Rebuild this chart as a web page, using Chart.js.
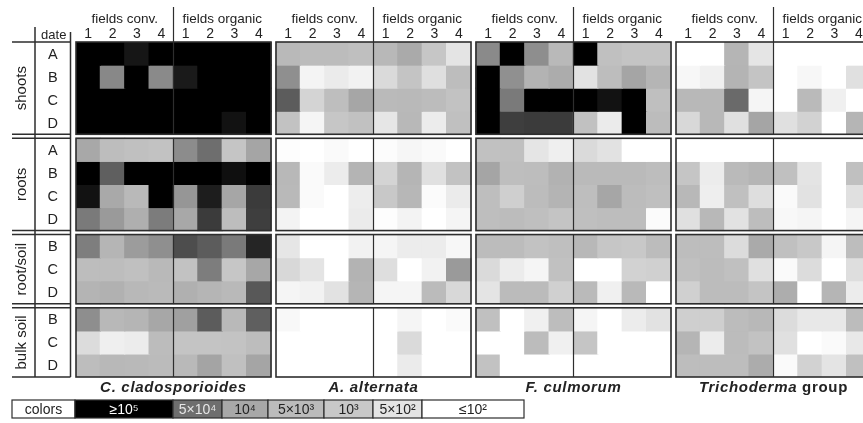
<!DOCTYPE html>
<html>
<head>
<meta charset="utf-8">
<script src="https://cdn.jsdelivr.net/npm/chart.js@4/dist/chart.umd.min.js"></script>
<style>
  html, body { margin: 0; padding: 0; background: #fff; }
  #heat { display: block; }
</style>
</head>
<body>
<canvas id="heat" width="863" height="423"></canvas>
<script>
// ---- DATA ----
// log10 propagules per cell; columns = fields conv. 1-4, fields organic 1-4
// rows = shoots A-D, roots A-D, root/soil B-D, bulk soil B-D
const speciesNames = ['C. cladosporioides', 'A. alternata', 'F. culmorum', 'Trichoderma'];
const speciesSuffix = ['', '', '', ' group'];
const groups = ['shoots', 'roots', 'root/soil', 'bulk soil'];
const groupDates = [['A', 'B', 'C', 'D'], ['A', 'B', 'C', 'D'], ['B', 'C', 'D'], ['B', 'C', 'D']];
const fieldNumbers = ['1', '2', '3', '4'];
const fieldTypes = ['fields conv.', 'fields organic'];
const levelValues = [5, 4.7, 4, 3.7, 3, 2.7, 2];
const levelLabels = ['\u226510\u2075', '5\u00d710\u2074', '10\u2074', '5\u00d710\u00b3', '10\u00b3', '5\u00d710\u00b2', '\u226410\u00b2'];

const cladosporioides = [
  [5.2, 5.2, 4.94, 5.2, 5.2, 5.2, 5.2, 5.2],
  [5.2, 4.39, 5.2, 4.36, 4.93, 5.2, 5.2, 5.2],
  [5.2, 5.2, 5.2, 5.2, 5.2, 5.2, 5.2, 5.2],
  [5.2, 5.2, 5.2, 5.2, 5.2, 5.2, 4.95, 5.2],
  [4.00, 3.59, 3.43, 3.32, 4.34, 4.70, 3.16, 4.04],
  [5.2, 4.74, 5.2, 5.2, 5.2, 5.2, 4.96, 5.2],
  [4.95, 3.98, 3.73, 5.2, 4.22, 4.92, 4.02, 4.84],
  [4.55, 4.17, 3.89, 4.53, 4.00, 4.84, 3.59, 4.83],
  [4.51, 3.79, 4.14, 4.30, 4.79, 4.75, 4.55, 4.90],
  [3.59, 3.59, 3.43, 3.73, 3.32, 4.52, 3.11, 4.01],
  [3.81, 3.86, 3.75, 3.72, 3.87, 3.79, 3.73, 4.76],
  [4.31, 3.75, 3.79, 4.01, 4.10, 4.75, 3.73, 4.74],
  [2.79, 2.41, 2.49, 3.65, 3.22, 3.22, 3.27, 3.59],
  [3.59, 3.75, 3.73, 3.70, 3.73, 4.05, 3.43, 4.04]
];

const alternata = [
  [3.73, 3.65, 3.65, 3.48, 3.75, 3.97, 3.11, 2.70],
  [4.30, 2.29, 2.52, 2.34, 2.81, 3.22, 2.75, 3.59],
  [4.75, 2.87, 3.54, 4.02, 3.72, 3.73, 3.65, 3.32],
  [3.32, 2.26, 3.11, 3.38, 2.65, 3.75, 2.49, 3.43],
  [2.05, 2.00, 2.13, 2.00, 2.08, 2.23, 2.13, 2.00],
  [3.75, 2.13, 2.49, 3.81, 2.87, 3.79, 2.74, 3.32],
  [3.73, 2.13, 2.00, 2.47, 3.00, 3.76, 2.10, 2.52],
  [2.31, 2.00, 2.00, 2.52, 2.05, 2.31, 2.00, 2.26],
  [2.65, 2.00, 2.00, 2.34, 2.26, 2.49, 2.49, 2.21],
  [2.83, 2.70, 2.00, 3.83, 2.76, 2.00, 2.34, 4.17],
  [2.26, 2.34, 2.72, 3.79, 2.26, 2.26, 3.70, 2.83],
  [2.18, 2.00, 2.00, 2.00, 2.00, 2.26, 2.00, 2.13],
  [2.00, 2.00, 2.00, 2.00, 2.00, 2.81, 2.00, 2.00],
  [2.00, 2.00, 2.00, 2.00, 2.00, 2.52, 2.00, 2.00]
];

const culmorum = [
  [4.36, 5.2, 4.31, 3.73, 5.2, 3.43, 3.22, 3.22],
  [5.2, 4.29, 3.83, 3.94, 2.72, 3.59, 4.04, 3.79],
  [5.2, 4.55, 5.2, 5.2, 5.2, 4.95, 5.2, 3.48],
  [5.2, 4.83, 4.84, 4.84, 3.38, 2.52, 5.2, 3.65],
  [3.38, 3.43, 2.67, 2.41, 2.81, 2.72, 2.00, 2.00],
  [4.04, 3.54, 3.59, 3.84, 3.72, 3.72, 3.72, 3.59],
  [3.54, 2.93, 3.65, 3.81, 3.54, 4.02, 3.65, 3.48],
  [3.54, 3.65, 3.48, 3.22, 3.48, 3.59, 3.59, 2.10],
  [3.65, 3.65, 3.32, 3.48, 3.75, 3.11, 3.00, 3.65],
  [2.81, 2.49, 2.26, 3.38, 2.00, 2.00, 2.89, 2.91],
  [2.70, 3.70, 3.70, 2.91, 3.72, 2.39, 3.73, 2.00],
  [3.43, 2.00, 2.39, 3.59, 2.26, 2.00, 2.49, 2.72],
  [2.00, 2.00, 3.65, 2.39, 3.16, 2.00, 2.00, 2.00],
  [3.32, 2.00, 2.00, 2.00, 2.00, 2.00, 2.00, 2.00]
];

const trichoderma = [
  [2.00, 2.00, 3.79, 2.67, 2.00, 2.00, 2.00, 2.00],
  [2.21, 2.39, 3.81, 3.22, 2.00, 2.21, 2.00, 2.74],
  [3.75, 3.75, 4.71, 2.26, 2.00, 3.72, 2.39, 2.00],
  [2.83, 3.75, 2.74, 4.04, 2.74, 2.89, 2.00, 3.79],
  [2.00, 2.00, 2.00, 2.00, 2.00, 2.00, 2.00, 2.00],
  [3.16, 2.49, 3.72, 3.79, 3.43, 2.70, 2.00, 3.43],
  [3.75, 2.44, 3.43, 2.76, 2.13, 2.72, 2.00, 2.74],
  [2.74, 3.75, 2.72, 3.59, 2.18, 2.26, 2.00, 2.26],
  [3.59, 3.59, 2.79, 3.97, 3.43, 3.00, 2.26, 3.59],
  [3.43, 3.65, 3.43, 2.74, 2.13, 2.79, 2.00, 2.76],
  [2.91, 3.65, 3.65, 3.22, 3.92, 2.00, 3.79, 2.49],
  [2.93, 2.93, 3.65, 3.75, 2.79, 2.60, 2.60, 3.65],
  [3.79, 2.49, 3.65, 3.32, 2.74, 2.00, 2.13, 2.60],
  [3.59, 3.59, 3.59, 3.94, 2.13, 2.89, 2.70, 3.43]
];

const panels = [cladosporioides, alternata, culmorum, trichoderma];

// ---- LAYOUT / STYLE ----
const CELL_PX = 24.375;             // one field column
const PANEL_STEP = 200 / CELL_PX;   // 8 columns + white gap
const GAP_Y = 4 / 23.07;            // gap between sample groups, in row units
const ROWS = groupDates.reduce((s, d) => s + d.length, 0);
const Y_MAX = ROWS + (groups.length - 1) * GAP_Y;
const FONT = "'Liberation Sans', Arial, sans-serif";
const INK = '#232323';
const LINE = '#2e2e2e';
const GRAY_STOPS = [0, 110, 168, 187, 200, 228, 255]; // gray for each level in levelValues

function shade(v) {
  const lv = levelValues;
  let g;
  if (v >= lv[0]) g = GRAY_STOPS[0];
  else if (v <= lv[lv.length - 1]) g = GRAY_STOPS[GRAY_STOPS.length - 1];
  else {
    for (let i = 0; i < lv.length - 1; i++) {
      if (v <= lv[i] && v >= lv[i + 1]) {
        const t = (lv[i] - v) / (lv[i] - lv[i + 1]);
        g = GRAY_STOPS[i] + t * (GRAY_STOPS[i + 1] - GRAY_STOPS[i]);
        break;
      }
    }
  }
  g = Math.round(g);
  return `rgb(${g},${g},${g})`;
}

// row start (in y units) of every group
const groupStart = [];
(() => {
  let r = 0;
  groupDates.forEach((d, gi) => { groupStart.push(r + gi * GAP_Y); r += d.length; });
})();

// ---- DATASETS: one floating-bar series per sample row ----
const datasets = [];
let rowIndex = 0;
groups.forEach((grp, gi) => {
  groupDates[gi].forEach((date, di) => {
    const top = groupStart[gi] + di;
    const pts = [];
    panels.forEach((rows, p) => {
      rows[rowIndex].forEach((v, c) => {
        pts.push({ x: p * PANEL_STEP + c + 0.5, y: [top, top + 1], v });
      });
    });
    datasets.push({
      label: `${grp} ${date}`,
      data: pts,
      backgroundColor: ctx => shade(ctx.raw.v),
      borderWidth: 0,
      inflateAmount: 0.6,
      grouped: false,
      barPercentage: 1,
      categoryPercentage: 1
    });
    rowIndex++;
  });
});

// ---- FRAMES, LABELS AND COLOR KEY ----
const decorations = {
  id: 'decorations',
  afterDatasetsDraw(chart) {
    const { ctx, scales: { x, y } } = chart;
    ctx.save();
    ctx.strokeStyle = LINE;
    panels.forEach((_, p) => {
      const x0 = x.getPixelForValue(p * PANEL_STEP);
      const x1 = x.getPixelForValue(p * PANEL_STEP + 8);
      const xm = x.getPixelForValue(p * PANEL_STEP + 4);
      groups.forEach((_, gi) => {
        const y0 = y.getPixelForValue(groupStart[gi]);
        const y1 = y.getPixelForValue(groupStart[gi] + groupDates[gi].length);
        ctx.lineWidth = 1.6;
        ctx.strokeRect(x0, y0, x1 - x0, y1 - y0);
        ctx.lineWidth = 1.2;
        ctx.beginPath();
        ctx.moveTo(xm, y0);
        ctx.lineTo(xm, y1);
        ctx.stroke();
      });
    });
    ctx.restore();
  },
  afterDraw(chart) {
    const { ctx, scales: { x, y }, chartArea } = chart;
    ctx.save();
    ctx.fillStyle = INK;
    ctx.strokeStyle = LINE;
    ctx.textAlign = 'center';

    // column headers
    panels.forEach((_, p) => {
      const xm = x.getPixelForValue(p * PANEL_STEP + 4);
      ctx.lineWidth = 1.2;
      ctx.beginPath();
      ctx.moveTo(xm, 7);
      ctx.lineTo(xm, chartArea.top);
      ctx.stroke();
      fieldTypes.forEach((ft, k) => {
        ctx.font = `13.5px ${FONT}`;
        ctx.textBaseline = 'alphabetic';
        ctx.fillText(ft, x.getPixelForValue(p * PANEL_STEP + k * 4 + 2), 23);
        fieldNumbers.forEach((n, c) => {
          ctx.font = `14px ${FONT}`;
          ctx.fillText(n, x.getPixelForValue(p * PANEL_STEP + k * 4 + c + 0.5), 38);
        });
      });
    });

    // row header column
    const colA = 12, colB = 35, colC = 70.5;
    ctx.lineWidth = 1.5;
    ctx.beginPath();
    ctx.moveTo(colB, 27); ctx.lineTo(colB, y.getPixelForValue(Y_MAX));
    ctx.moveTo(colC, 32); ctx.lineTo(colC, y.getPixelForValue(Y_MAX));
    groups.forEach((_, gi) => {
      const y0 = y.getPixelForValue(groupStart[gi]);
      const y1 = y.getPixelForValue(groupStart[gi] + groupDates[gi].length);
      ctx.moveTo(colA, y0); ctx.lineTo(colC, y0);
      ctx.moveTo(colA, y1); ctx.lineTo(colC, y1);
    });
    ctx.stroke();

    ctx.font = `13px ${FONT}`;
    ctx.textBaseline = 'alphabetic';
    ctx.fillText('date', (colB + colC) / 2 + 1, 39);

    groups.forEach((grp, gi) => {
      const n = groupDates[gi].length;
      const cy = y.getPixelForValue(groupStart[gi] + n / 2);
      ctx.save();
      ctx.translate((colA + colB) / 2 - 1.5, cy);
      ctx.rotate(-Math.PI / 2);
      ctx.font = `15px ${FONT}`;
      ctx.textBaseline = 'middle';
      ctx.fillText(grp, 0, 0);
      ctx.restore();
      groupDates[gi].forEach((d, di) => {
        ctx.font = `14.5px ${FONT}`;
        ctx.textBaseline = 'middle';
        ctx.fillText(d, (colB + colC) / 2, y.getPixelForValue(groupStart[gi] + di + 0.5) + 1);
      });
    });

    // species names under each panel
    ctx.textBaseline = 'alphabetic';
    speciesNames.forEach((name, p) => {
      const cx = x.getPixelForValue(p * PANEL_STEP + 4);
      ctx.letterSpacing = '0.7px';
      ctx.font = `italic bold 15px ${FONT}`;
      const w1 = ctx.measureText(name).width;
      ctx.font = `bold 15px ${FONT}`;
      const w2 = speciesSuffix[p] ? ctx.measureText(speciesSuffix[p]).width : 0;
      const x0 = cx - (w1 + w2) / 2;
      ctx.textAlign = 'left';
      ctx.font = `italic bold 15px ${FONT}`;
      ctx.fillText(name, x0, 392);
      if (w2) {
        ctx.font = `bold 15px ${FONT}`;
        ctx.fillText(speciesSuffix[p], x0 + w1, 392);
      }
      ctx.textAlign = 'center';
    });
    ctx.letterSpacing = '0px';

    // color key
    const keyTop = 400, keyH = 18;
    const keyEdges = [12, 75, 173, 222, 268, 324, 373, 422, 524];
    ctx.lineWidth = 1.2;
    ctx.font = `14px ${FONT}`;
    ctx.textBaseline = 'middle';
    for (let i = 0; i < keyEdges.length - 1; i++) {
      const a = keyEdges[i], b = keyEdges[i + 1];
      const lvl = i - 1;
      ctx.fillStyle = lvl < 0 ? '#fff' : shade(levelValues[lvl]);
      ctx.fillRect(a, keyTop, b - a, keyH);
      ctx.strokeRect(a, keyTop, b - a, keyH);
      ctx.fillStyle = lvl === 0 ? '#fff' : lvl === 1 ? '#e6e6e6' : INK;
      ctx.fillText(lvl < 0 ? 'colors' : levelLabels[lvl], (a + b) / 2, keyTop + keyH / 2 + 1);
    }
    ctx.restore();
  }
};

new Chart(document.getElementById('heat'), {
  type: 'bar',
  data: { datasets },
  options: {
    responsive: false,
    animation: false,
    devicePixelRatio: 1,
    layout: { padding: { left: 76, right: 0, top: 42, bottom: 46 } },
    scales: {
      x: { type: 'linear', display: false, offset: false, min: 0, max: (863 - 76) / CELL_PX, ticks: { stepSize: 4 } },
      y: { type: 'linear', display: false, reverse: true, min: 0, max: Y_MAX }
    },
    plugins: {
      legend: { display: false },
      tooltip: { enabled: false }
    }
  },
  plugins: [decorations]
});
</script>
</body>
</html>
